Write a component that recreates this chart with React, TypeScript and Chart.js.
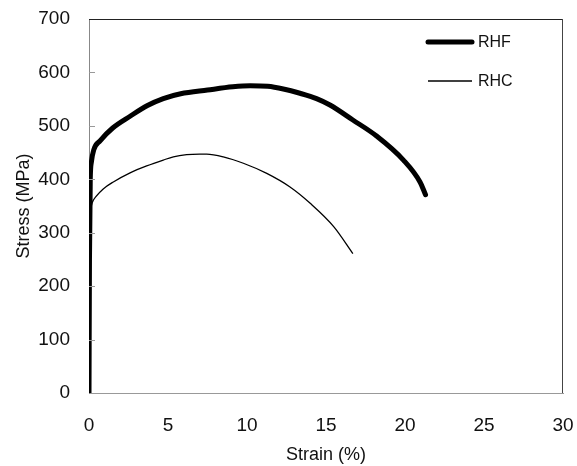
import React, { useEffect, useRef } from "react";
import { Chart, registerables } from "chart.js";

Chart.register(...registerables);

const seriesNames = ["RHF", "RHC"];

const rhfStrain = [0, 0.03, 0.08, 0.15, 0.3, 0.7, 1.5, 2.6, 3.7, 4.7, 5.8, 7.5, 9.1, 10.2, 11.3, 12.3, 13.35, 14.4, 15.25, 16.7, 18.2, 19.9, 20.95, 21.3];
const rhfStress = [0, 250, 400, 432, 455, 472, 496, 518, 538, 551, 560, 567, 573, 575, 574, 569, 561, 551, 539, 511, 481, 436, 395, 371];

const rhcStrain = [0, 0.05, 0.12, 0.2, 0.45, 0.9, 1.54, 2.6, 3.65, 4.7, 5.34, 6.18, 7.0, 7.45, 8.5, 9.77, 11.25, 12.7, 14.0, 15.5, 16.7];
const rhcStress = [0, 300, 345, 356, 368, 382, 395, 412, 425, 436, 442, 446, 447, 447, 442, 430, 411, 386, 355, 311, 261];

const xTicks = [0, 5, 10, 15, 20, 25, 30];
const yTicks = [0, 100, 200, 300, 400, 500, 600, 700];

const xTitle = "Strain (%)";
const yTitle = "Stress (MPa)";

const toPoints = (xs: number[], ys: number[]) => xs.map((x, i) => ({ x, y: ys[i] }));

const framePlugin = {
  id: "frameAndTicks",
  afterDraw(chart: any) {
    const { ctx, chartArea } = chart;
    const { left, right, top, bottom } = chartArea;
    ctx.save();
    ctx.lineWidth = 1;
    ctx.strokeStyle = "#222";
    ctx.beginPath();
    ctx.moveTo(left, top + 0.5);
    ctx.lineTo(right, top + 0.5);
    ctx.stroke();
    ctx.strokeStyle = "#444";
    ctx.beginPath();
    ctx.moveTo(right - 0.5, top);
    ctx.lineTo(right - 0.5, bottom);
    ctx.stroke();
    const ys = chart.scales.y;
    ctx.strokeStyle = "#999";
    for (const v of yTicks) {
      if (v === 0 || v === 700) continue;
      const py = Math.round(ys.getPixelForValue(v)) + 0.5;
      ctx.beginPath();
      ctx.moveTo(left, py);
      ctx.lineTo(left + 6, py);
      ctx.stroke();
    }
    const legendRows = [42, 81];
    chart.data.datasets.forEach((ds: any, i: number) => {
      const y = legendRows[i];
      ctx.strokeStyle = ds.borderColor;
      ctx.lineWidth = ds.borderWidth;
      ctx.lineCap = i === 0 ? "round" : "butt";
      ctx.beginPath();
      ctx.moveTo(428, y);
      ctx.lineTo(472, y);
      ctx.stroke();
      ctx.fillStyle = "#111";
      ctx.font = "16px 'Liberation Sans', Arial, sans-serif";
      ctx.textBaseline = "middle";
      ctx.textAlign = "left";
      ctx.fillText(ds.label, 478, y + 1);
    });
    ctx.restore();
  },
};

export default function App() {
  const canvasRef = useRef<HTMLCanvasElement | null>(null);

  useEffect(() => {
    const canvas = canvasRef.current;
    if (!canvas) return;
    const tickFont = { family: "'Liberation Sans', Arial, sans-serif", size: 19 };
    const titleFont = { family: "'Liberation Sans', Arial, sans-serif", size: 18 };
    const chart = new Chart(canvas, {
      type: "scatter",
      data: {
        datasets: [
          {
            label: seriesNames[0],
            data: toPoints(rhfStrain, rhfStress),
            showLine: true,
            borderColor: "#000",
            backgroundColor: "#000",
            borderWidth: 5,
            pointRadius: 0,
            cubicInterpolationMode: "monotone",
            borderCapStyle: "round",
            borderJoinStyle: "round",
          },
          {
            label: seriesNames[1],
            data: toPoints(rhcStrain, rhcStress),
            showLine: true,
            borderColor: "#000",
            backgroundColor: "#000",
            borderWidth: 1.3,
            pointRadius: 0,
            cubicInterpolationMode: "monotone",
          },
        ],
      },
      options: {
        animation: false,
        responsive: false,
        maintainAspectRatio: false,
        layout: { padding: { left: 0, top: 19, right: 14, bottom: 0 } },
        plugins: { legend: { display: false }, tooltip: { enabled: false } },
        scales: {
          x: {
            type: "linear",
            min: 0,
            max: 30,
            afterBuildTicks: (scale: any) => {
              scale.ticks = xTicks.map((v) => ({ value: v }));
            },
            afterFit: (scale: any) => {
              scale.height = 73;
              scale.paddingLeft = 0;
              scale.paddingRight = 0;
              scale.paddingTop = 0;
              scale.paddingBottom = 0;
            },
            grid: { display: false, drawTicks: false },
            border: { display: true, color: "#999", width: 1 },
            ticks: { font: tickFont, color: "#111", padding: 21 },
            title: {
              display: true,
              text: xTitle,
              font: titleFont,
              color: "#111",
              padding: { top: 0, bottom: 0 },
            },
          },
          y: {
            type: "linear",
            min: 0,
            max: 700,
            afterBuildTicks: (scale: any) => {
              scale.ticks = yTicks.map((v) => ({ value: v }));
            },
            afterFit: (scale: any) => {
              scale.width = 89;
              scale.paddingLeft = 0;
              scale.paddingRight = 0;
              scale.paddingTop = 0;
              scale.paddingBottom = 0;
            },
            grid: { display: false, drawTicks: false },
            border: { display: true, color: "#888", width: 1 },
            ticks: { font: tickFont, color: "#111", padding: 19 },
            title: {
              display: true,
              text: yTitle,
              font: titleFont,
              color: "#111",
              padding: { top: 13, bottom: 0 },
            },
          },
        },
      } as any,
      plugins: [framePlugin],
    });
    return () => chart.destroy();
  }, []);

  return (
    <div style={{ position: "fixed", left: 0, top: 0, width: 577, height: 466, background: "#fff" }}>
      <canvas ref={canvasRef} width={577} height={466} style={{ width: 577, height: 466 }} />
    </div>
  );
}
